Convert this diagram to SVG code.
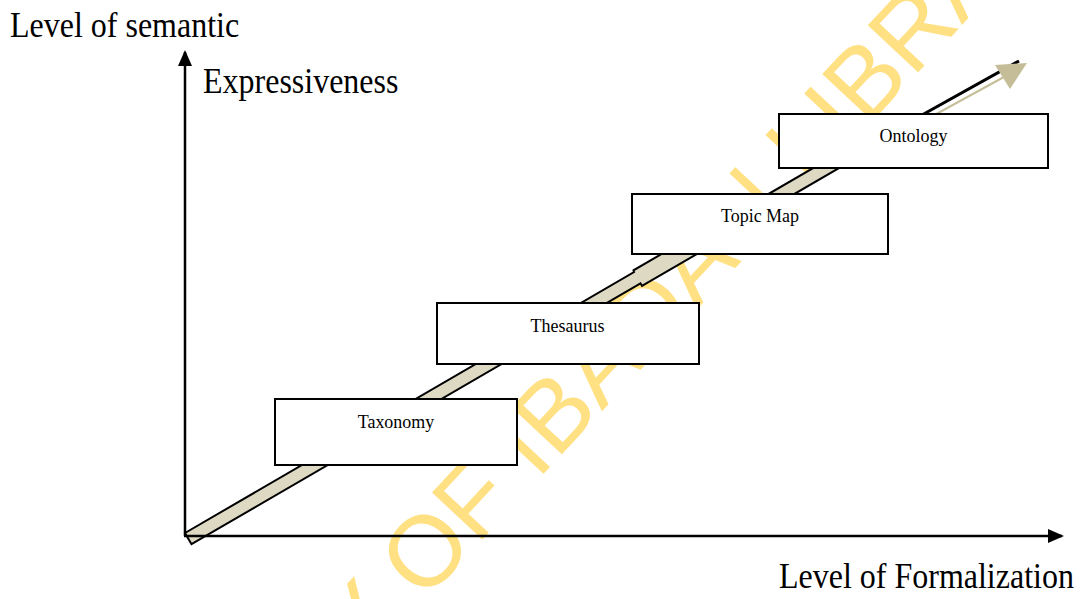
<svg xmlns="http://www.w3.org/2000/svg" width="1083" height="599" viewBox="0 0 1083 599">
  <style>
    .lbl { font-family: "Liberation Serif", "Times New Roman", serif; fill: #000; }
    .big { font-size: 32px; }
    .node-text { font-size: 18px; text-anchor: middle; }
    .box { fill: #fff; stroke: #000; stroke-width: 2; }
    .axis { stroke: #000; stroke-width: 2.5; fill: none; }
    .wm { font-family: "Liberation Sans", Arial, sans-serif; font-size: 100px; fill: #FFE083; }
  </style>
  <defs>
    <marker id="axisHead" viewBox="0 0 16 16" refX="14" refY="8" markerWidth="16" markerHeight="16" markerUnits="userSpaceOnUse" orient="auto">
      <path d="M0,1 L16,8 L0,15 Z" fill="#000"/>
    </marker>
  </defs>

  <rect width="1083" height="599" fill="#fff"/>

  <!-- library watermark, behind everything -->
  <text class="wm" transform="translate(425 601) rotate(-47)" x="-628" y="0">UNIVERSITY OF IBADAN LIBRARY</text>

  <!-- rising band arrow: three pieces, the middle one slightly wider -->
  <g id="connectors">
    <path d="M185,533 L634,272.1 L633.5,270.3 L712,224.7 L712,226.8 L869,135.6 L875.5,146.8 L715.1,240 L716.6,242.6 L642,285.9 L640.5,283.3 L191.5,544.2 Z"
          fill="#DDD9C3" stroke="#000" stroke-width="2" stroke-linejoin="miter"/>
    <line x1="900" y1="127.3" x2="1019" y2="61" stroke="#000" stroke-width="3"/>
    <line x1="900" y1="133.9" x2="1003" y2="77.5" stroke="#C4BD97" stroke-width="2"/>
    <polygon points="995,65 1027,63 1010,89" fill="#C4BD97"/>

    <!-- axes -->
    <line class="axis" x1="185" y1="536" x2="185" y2="52" marker-end="url(#axisHead)"/>
    <line class="axis" x1="184" y1="536" x2="1062" y2="536" marker-end="url(#axisHead)"/>
  </g>

  <g id="node-taxonomy">
    <rect class="box" x="275" y="399" width="242" height="66"/>
    <text class="lbl node-text" transform="translate(396 428) scale(1 1.1)">Taxonomy</text>
  </g>
  <g id="node-thesaurus">
    <rect class="box" x="437" y="303" width="262" height="61"/>
    <text class="lbl node-text" transform="translate(567.5 332) scale(1 1.1)">Thesaurus</text>
  </g>
  <g id="node-topicmap">
    <rect class="box" x="632" y="194" width="256" height="60"/>
    <text class="lbl node-text" transform="translate(760 221.5) scale(1 1.1)">Topic Map</text>
  </g>
  <g id="node-ontology">
    <rect class="box" x="779" y="114" width="269" height="54"/>
    <text class="lbl node-text" transform="translate(913.5 141.5) scale(1 1.1)">Ontology</text>
  </g>

  <g id="axis-labels">
    <text class="lbl big" transform="translate(10 36.5) scale(1 1.1)">Level of semantic</text>
    <text class="lbl big" transform="translate(203 93) scale(1 1.1)">Expressiveness</text>
    <text class="lbl big" transform="translate(779 588) scale(1 1.1)">Level of Formalization</text>
  </g>
</svg>
